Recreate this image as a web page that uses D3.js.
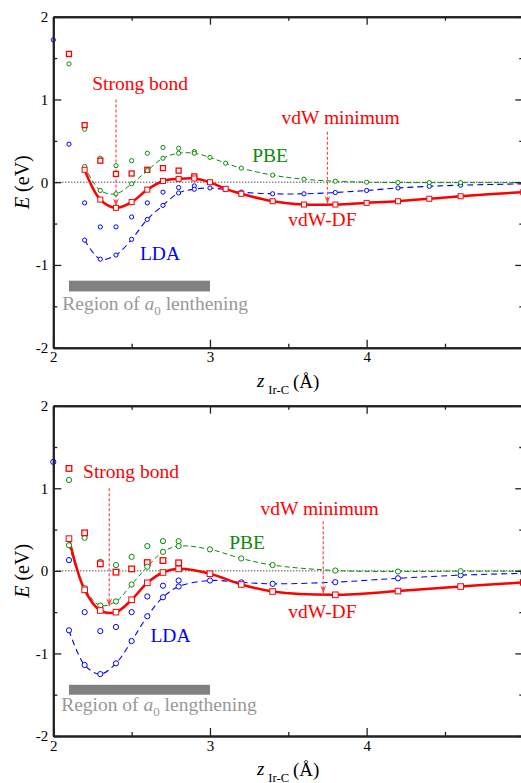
<!DOCTYPE html>
<html>
<head>
<meta charset="utf-8">
<script src="https://cdn.jsdelivr.net/npm/d3@7"></script>
<style>
  body { margin: 0; background: #fff; }
  svg { display: block; font-family: "Liberation Serif", "DejaVu Serif", serif; }
</style>
</head>
<body>
<svg id="chart" width="521" height="783"></svg>
<script>
// ---- data: energies E (eV) versus z_Ir-C (Å) ----
// top panel
const topCurveZ = [2.2, 2.3, 2.4, 2.5, 2.6, 2.7, 2.8, 2.9, 3.0, 3.1, 3.2, 3.4, 3.6, 3.8, 4.0, 4.2, 4.4, 4.6, 5.0];
const topDF  = [0.15, -0.21, -0.31, -0.24, -0.09, 0.015, 0.04, 0.045, 0.0, -0.08, -0.14, -0.23, -0.27, -0.27, -0.25, -0.23, -0.20, -0.17, -0.12];
const topPBE = [0.19, -0.10, -0.14, -0.02, 0.14, 0.29, 0.35, 0.35, 0.30, 0.23, 0.17, 0.085, 0.036, 0.012, 0.0, -0.004, -0.005, -0.005, -0.005];
const topLDA = [-0.70, -0.93, -0.88, -0.69, -0.45, -0.28, -0.13, -0.085, -0.07, -0.09, -0.12, -0.14, -0.14, -0.125, -0.10, -0.07, -0.05, -0.036, -0.02];

const topRawZ = [2.1, 2.2, 2.3, 2.4, 2.5, 2.6, 2.7, 2.8, 2.9];
const topRawDF  = [1.55, 0.69, 0.26, 0.10, 0.105, 0.15, 0.17, 0.14, 0.07];
const topRawPBE = [1.43, 0.64, 0.29, 0.20, 0.26, 0.35, 0.42, 0.41, 0.37];
const topRawLDAZ = [2.0, 2.1, 2.2, 2.3, 2.4, 2.5, 2.6, 2.7, 2.8, 2.9];
const topRawLDA  = [1.72, 0.46, -0.25, -0.54, -0.54, -0.42, -0.25, -0.12, -0.065, -0.045];

// bottom panel
const botCurveZ = [2.1, 2.2, 2.3, 2.4, 2.5, 2.6, 2.7, 2.8, 3.0, 3.2, 3.4, 3.8, 4.2, 4.6, 5.0];
const botDF  = [0.39, -0.23, -0.48, -0.50, -0.35, -0.145, -0.02, 0.024, -0.035, -0.165, -0.25, -0.29, -0.245, -0.19, -0.14];
const botPBE = [0.31, -0.21, -0.42, -0.37, -0.165, 0.05, 0.23, 0.30, 0.26, 0.15, 0.07, 0.004, -0.008, -0.004, -0.004];
const botLDA = [-0.72, -1.14, -1.25, -1.12, -0.85, -0.55, -0.32, -0.19, -0.117, -0.14, -0.157, -0.137, -0.09, -0.052, -0.03];

const botRawZ = [2.1, 2.2, 2.3, 2.4, 2.5, 2.6, 2.7, 2.8];
const botRawDF  = [1.24, 0.46, 0.085, -0.016, 0.024, 0.10, 0.125, 0.097];
const botRawPBE = [1.10, 0.40, 0.11, 0.07, 0.17, 0.30, 0.36, 0.36];
const botRawLDAZ = [2.0, 2.1, 2.2, 2.3, 2.4, 2.5, 2.6, 2.7, 2.8];
const botRawLDA  = [1.32, 0.13, -0.50, -0.73, -0.68, -0.50, -0.31, -0.18, -0.117];

const xTicks = [2, 3, 4, 5];
const xMinor = [2.5, 3.5, 4.5];
const yTicks = [-2, -1, 0, 1, 2];
const yMinor = [-1.5, -0.5, 0.5, 1.5];

const RED = "#ff0000", GREEN = "#0a8a0a", BLUE = "#0000ff";

const svg = d3.select("#chart");
const x = d3.scaleLinear([2, 5], [53.3, 523.3]);

const zip = (zs, es) => zs.map((z, i) => ({ z, e: es[i] }));

// small down-pointing arrow head (path already points down, so no rotation)
svg.append("defs").append("marker")
  .attr("id", "arrow")
  .attr("viewBox", "0 0 6 8")
  .attr("refX", 3).attr("refY", 8)
  .attr("markerWidth", 6).attr("markerHeight", 8)
  .attr("markerUnits", "userSpaceOnUse")
  .attr("orient", "0")
  .append("path")
  .attr("d", "M0,0 L3,8 L6,0 L3,3 Z")
  .attr("fill", "#ff4040");

function panel(y, d, ann, sz) {
  const g = svg.append("g");
  const line = d3.line().x(p => x(p.z)).y(p => y(p.e)).curve(d3.curveCatmullRom.alpha(0.5));

  // zero reference
  g.append("line")
    .attr("x1", x(2)).attr("x2", x(5)).attr("y1", y(0)).attr("y2", y(0))
    .attr("stroke", "#000").attr("stroke-width", 1).attr("stroke-dasharray", "1,2");

  // gray bar + label
  g.append("rect")
    .attr("x", x(2.1)).attr("width", x(3.0) - x(2.1))
    .attr("y", y(ann.bar[0])).attr("height", y(ann.bar[1]) - y(ann.bar[0]))
    .attr("fill", "#808080");
  const rt = g.append("text").attr("x", x(ann.region[0])).attr("y", y(ann.region[1]))
    .attr("fill", "#999").attr("font-size", 19.5);
  rt.append("tspan").text("Region of ");
  rt.append("tspan").attr("font-style", "italic").text("a");
  rt.append("tspan").attr("font-size", 13).attr("dy", 5).text("0");
  rt.append("tspan").attr("dy", -5).text(" " + ann.regionWord);

  // curves
  g.append("path").datum(d.pbe).attr("d", line).attr("fill", "none")
    .attr("stroke", GREEN).attr("stroke-width", 1).attr("stroke-dasharray", "5,3");
  g.append("path").datum(d.lda).attr("d", line).attr("fill", "none")
    .attr("stroke", BLUE).attr("stroke-width", 1.1).attr("stroke-dasharray", "6,4");
  g.append("path").datum(d.df).attr("d", line).attr("fill", "none")
    .attr("stroke", RED).attr("stroke-width", 2.5);

  // annotation arrows
  ann.arrows.forEach(a => {
    g.append("line")
      .attr("x1", x(a[0])).attr("x2", x(a[0])).attr("y1", y(a[1])).attr("y2", y(a[2]))
      .attr("stroke", "#ff4848").attr("stroke-width", 1.2).attr("stroke-dasharray", "3,2")
      .attr("marker-end", "url(#arrow)");
  });

  // markers
  const circles = (pts, col) => g.append("g").selectAll("circle").data(pts).join("circle")
    .attr("cx", p => x(p.z)).attr("cy", p => y(p.e)).attr("r", sz.r)
    .attr("fill", "#fff").attr("stroke", col).attr("stroke-width", 1);
  const squares = (pts, col, w) => g.append("g").selectAll("rect").data(pts).join("rect")
    .attr("x", p => x(p.z) - sz.s / 2).attr("y", p => y(p.e) - sz.s / 2)
    .attr("width", sz.s).attr("height", sz.s)
    .attr("fill", "#fff").attr("stroke", col).attr("stroke-width", w);
  circles(d.rawLda, BLUE);
  circles(d.rawPbe, GREEN);
  squares(d.rawDf, RED, 1.3);
  circles(d.lda, BLUE);
  circles(d.pbe, GREEN);
  squares(d.df, RED, 1);

  // labels
  const lab = (t, p, col) => g.append("text").attr("x", x(p[0])).attr("y", y(p[1]))
    .attr("fill", col).attr("font-size", 19.5).attr("text-anchor", p[2] || "start").text(t);
  lab("Strong bond", ann.strong, RED);
  lab("vdW minimum", ann.vdw, RED);
  lab("PBE", ann.pbe, GREEN);
  lab("vdW-DF", ann.df, RED);
  lab("LDA", ann.lda, BLUE);

  // axes
  const [yb, yt] = y.range();
  const axStyle = sel => {
    sel.select(".domain").attr("stroke", "#222").attr("stroke-width", 2);
    sel.selectAll(".tick line").attr("stroke", "#222").attr("stroke-width", 1.3);
    sel.selectAll(".tick text").attr("font-size", 15).attr("fill", "#000")
      .attr("font-family", "Liberation Serif, serif");
  };
  g.append("g").attr("transform", `translate(0,${yb})`)
    .call(d3.axisBottom(x).tickValues(xTicks.slice(0, 3)).tickFormat(d3.format("d")).tickSize(-8).tickSizeOuter(0).tickPadding(4))
    .call(axStyle);
  g.append("g").attr("transform", `translate(0,${yb})`)
    .call(d3.axisBottom(x).tickValues(xMinor).tickFormat("").tickSize(-4).tickSizeOuter(0))
    .call(axStyle);
  g.append("g").attr("transform", `translate(0,${yt})`)
    .call(d3.axisTop(x).tickValues(xTicks).tickFormat("").tickSize(-8).tickSizeOuter(0))
    .call(axStyle);
  g.append("g").attr("transform", `translate(0,${yt})`)
    .call(d3.axisTop(x).tickValues(xMinor).tickFormat("").tickSize(-4).tickSizeOuter(0))
    .call(axStyle);
  g.append("g").attr("transform", `translate(${x(2)},0)`)
    .call(d3.axisLeft(y).tickValues(yTicks).tickFormat(d => d < 0 ? "-" + (-d) : d).tickSize(-8).tickSizeOuter(0).tickPadding(5))
    .call(axStyle);
  g.append("g").attr("transform", `translate(${x(2)},0)`)
    .call(d3.axisLeft(y).tickValues(yMinor).tickFormat("").tickSize(-4).tickSizeOuter(0))
    .call(axStyle);
  g.append("g").attr("transform", `translate(${x(5)},0)`)
    .call(d3.axisRight(y).tickValues(yTicks).tickFormat("").tickSize(-8).tickSizeOuter(0))
    .call(axStyle);
  g.append("g").attr("transform", `translate(${x(5)},0)`)
    .call(d3.axisRight(y).tickValues(yMinor).tickFormat("").tickSize(-4).tickSizeOuter(0))
    .call(axStyle);

  // axis titles
  const xl = g.append("text").attr("y", yb + sz.xl).attr("font-size", 19);
  xl.append("tspan").attr("x", 257).attr("font-style", "italic").text("z");
  xl.append("tspan").attr("x", 268.3).attr("dy", 7).attr("font-size", 12.6).text("Ir-C");
  xl.append("tspan").attr("x", 293).attr("dy", -6).text("(Å)");

  const yl = g.append("text")
    .attr("transform", `translate(29,${y(0)}) rotate(-90)`)
    .attr("text-anchor", "middle").attr("font-size", 20);
  yl.append("tspan").attr("font-style", "italic").text("E");
  yl.append("tspan").text(" (eV)");
}

panel(d3.scaleLinear([-2, 2], [347.7, 16.7]), {
  df: zip(topCurveZ, topDF), pbe: zip(topCurveZ, topPBE), lda: zip(topCurveZ, topLDA),
  rawDf: zip(topRawZ, topRawDF), rawPbe: zip(topRawZ, topRawPBE), rawLda: zip(topRawLDAZ, topRawLDA)
}, {
  strong: [2.554, 1.12, "middle"], vdw: [3.834, 0.70, "middle"],
  pbe: [3.27, 0.245], df: [3.50, -0.53], lda: [2.553, -0.94],
  arrows: [[2.4, 1.0, -0.29], [3.75, 0.61, -0.26]],
  bar: [-1.19, -1.32], region: [2.057, -1.54], regionWord: "lenthening"
}, { r: 2.1, s: 5, xl: 39.5 });

panel(d3.scaleLinear([-2, 2], [736, 405.7]), {
  df: zip(botCurveZ, botDF), pbe: zip(botCurveZ, botPBE), lda: zip(botCurveZ, botLDA),
  rawDf: zip(botRawZ, botRawDF), rawPbe: zip(botRawZ, botRawPBE), rawLda: zip(botRawLDAZ, botRawLDA)
}, {
  strong: [2.19, 1.13], vdw: [3.70, 0.68, "middle"],
  pbe: [3.123, 0.26], df: [3.50, -0.57], lda: [2.62, -0.86],
  arrows: [[2.357, 1.0, -0.43], [3.723, 0.60, -0.27]],
  bar: [-1.38, -1.50], region: [2.05, -1.70], regionWord: "lengthening"
}, { r: 2.6, s: 5.6, xl: 38.5 });
</script>
</body>
</html>
